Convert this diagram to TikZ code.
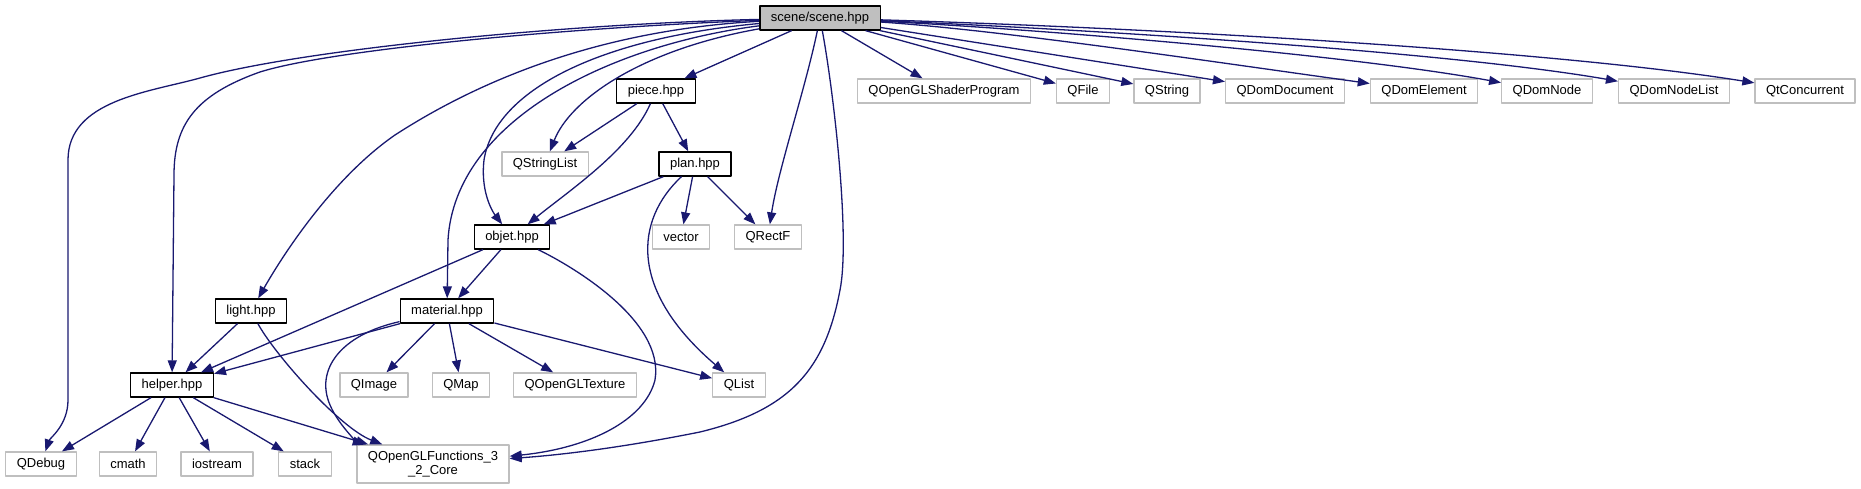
\documentclass[tikz,border=0pt]{standalone}
\usepackage{fontspec}
\setmainfont{Liberation Sans}
\usetikzlibrary{arrows.meta}
\definecolor{edgeblue}{HTML}{191970}
\definecolor{boxgrey}{HTML}{BFBFBF}
\begin{document}
\begin{tikzpicture}[x=1pt,y=-1pt,>={Triangle[length=12pt,width=9pt]},font=\fontsize{13}{14}\selectfont,line join=round]
\tikzset{proj/.style={draw=black,line width=1.3pt,inner xsep=11pt,inner ysep=0pt,minimum height=24pt},
  ext/.style={proj,draw=boxgrey},
  root/.style={proj,fill=boxgrey},
  inc/.style={->,draw=edgeblue,line width=1.3pt}}
\useasboundingbox (0,0) rectangle (1861,489);
% nodes, row by row
\node[root] (scene) at (820,18) {scene/scene.hpp};
\node[proj] (piece) at (656,91) {piece.hpp};
\node[ext] (qoglsp) at (944,91) {QOpenGLShaderProgram};
\node[ext] (qfile) at (1083,91) {QFile};
\node[ext] (qstring) at (1167,91) {QString};
\node[ext] (qdomdoc) at (1285,91) {QDomDocument};
\node[ext] (qdomelem) at (1424,91) {QDomElement};
\node[ext] (qdomnode) at (1547,91) {QDomNode};
\node[ext] (qdomnodelist) at (1674,91) {QDomNodeList};
\node[ext] (qtconc) at (1805,91) {QtConcurrent};
\node[ext] (qstringlist) at (545,164) {QStringList};
\node[proj] (plan) at (695,164) {plan.hpp};
\node[proj] (objet) at (512,237) {objet.hpp};
\node[ext] (vector) at (681,237) {vector};
\node[ext] (qrectf) at (768,237) {QRectF};
\node[proj] (light) at (251,311) {light.hpp};
\node[proj] (material) at (447,311) {material.hpp};
\node[proj] (helper) at (172,385) {helper.hpp};
\node[ext] (qimage) at (374,385) {QImage};
\node[ext] (qmap) at (461,385) {QMap};
\node[ext] (qogltex) at (575,385) {QOpenGLTexture};
\node[ext] (qlist) at (739,385) {QList};
\node[ext] (qdebug) at (41,464) {QDebug};
\node[ext] (cmath) at (128,464) {cmath};
\node[ext] (iostream) at (217,464) {iostream};
\node[ext] (stack) at (305,464) {stack};
\node[ext,minimum height=38pt,align=center] (qoglf) at (433,464) {QOpenGLFunctions\_3\\\_2\_Core};
% scene/scene.hpp
\draw[inc] (scene) .. controls (560,24) and (300,50) .. (200,78) .. controls (150,92) and (68,100) .. (68,160) -- (68,400) .. controls (68,425) and (50,438) .. (qdebug);
\draw[inc] (scene) .. controls (560,28) and (330,50) .. (260,72) .. controls (195,95) and (174,125) .. (174,175) -- (helper);
\draw[inc] (scene) .. controls (600,30) and (480,80) .. (395,135) .. controls (330,180) and (280,260) .. (light);
\draw[inc] (scene) .. controls (600,38) and (495,90) .. (484,160) .. controls (480,195) and (495,215) .. (objet);
\draw[inc] (scene) .. controls (610,45) and (455,120) .. (448,240) -- (material);
\draw[inc] (scene) .. controls (640,50) and (570,100) .. (qstringlist);
\draw[inc] (scene) -- (piece);
\draw[inc] (scene) .. controls (805,90) and (778,170) .. (qrectf);
\draw[inc] (scene) .. controls (835,100) and (850,240) .. (840,290) .. controls (825,370) and (790,410) .. (700,432) .. controls (620,448) and (560,455) .. (qoglf);
\draw[inc] (scene) -- (qoglsp);
\draw[inc] (scene) -- (qfile);
\draw[inc] (scene) -- (qstring);
\draw[inc] (scene) -- (qdomdoc);
\draw[inc] (scene) .. controls (1000,30) and (1200,60) .. (qdomelem);
\draw[inc] (scene) .. controls (1050,30) and (1350,55) .. (qdomnode);
\draw[inc] (scene) .. controls (1100,30) and (1450,52) .. (qdomnodelist);
\draw[inc] (scene) .. controls (1150,28) and (1550,50) .. (qtconc);
% piece.hpp and plan.hpp
\draw[inc] (piece) -- (qstringlist);
\draw[inc] (piece) .. controls (630,150) and (570,190) .. (objet);
\draw[inc] (piece) -- (plan);
\draw[inc] (plan) -- (objet);
\draw[inc] (plan) -- (vector);
\draw[inc] (plan) -- (qrectf);
\draw[inc] (plan) .. controls (635,220) and (628,290) .. (qlist);
% objet.hpp and light.hpp
\draw[inc] (objet) -- (helper);
\draw[inc] (objet) -- (material);
\draw[inc] (objet) .. controls (570,265) and (665,320) .. (655,380) .. controls (645,420) and (590,448) .. (qoglf);
\draw[inc] (light) -- (helper);
\draw[inc] (light) .. controls (275,355) and (340,428) .. (qoglf);
% material.hpp
\draw[inc] (material) -- (helper);
\draw[inc] (material) .. controls (340,335) and (315,370) .. (330,405) .. controls (340,428) and (360,443) .. (qoglf);
\draw[inc] (material) -- (qimage);
\draw[inc] (material) -- (qmap);
\draw[inc] (material) -- (qogltex);
\draw[inc] (material) -- (qlist);
% helper.hpp
\draw[inc] (helper) -- (qdebug);
\draw[inc] (helper) -- (cmath);
\draw[inc] (helper) -- (iostream);
\draw[inc] (helper) -- (stack);
\draw[inc] (helper) -- (qoglf);
\end{tikzpicture}
\end{document}
